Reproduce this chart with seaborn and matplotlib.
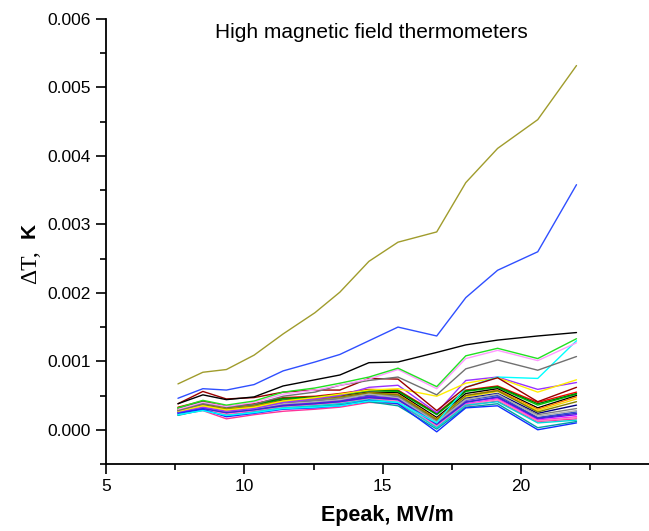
import numpy as np
import pandas as pd
import matplotlib
matplotlib.use("Agg")
import matplotlib.pyplot as plt
from matplotlib.ticker import MultipleLocator, FormatStrFormatter
import seaborn as sns

# Peak surface field of each measurement step, MV/m
epeak = [7.6, 8.5, 9.35, 10.35, 11.4, 12.55, 13.45, 14.5, 15.55, 16.95, 18.0, 19.15, 20.6, 22.0]

# Temperature rise of each thermometer, K
t_olive = [0.00067, 0.00084, 0.00088, 0.00109, 0.00140, 0.00171, 0.00201, 0.00246, 0.00274, 0.00289, 0.00361, 0.00411, 0.00453, 0.00532]
t_blue = [0.00046, 0.00060, 0.00058, 0.00066, 0.00086, 0.00099, 0.00110, 0.00130, 0.00150, 0.00137, 0.00193, 0.00233, 0.00260, 0.00358]
t_black = [0.00038, 0.00051, 0.00044, 0.00048, 0.00064, 0.00073, 0.00080, 0.00098, 0.00099, 0.00113, 0.00124, 0.00131, 0.00137, 0.00142]
t_green = [0.00032, 0.00043, 0.00036, 0.00042, 0.00055, 0.00061, 0.00068, 0.00077, 0.00090, 0.00063, 0.00108, 0.00119, 0.00104, 0.00133]
t_lmagenta = [0.00030, 0.00040, 0.00034, 0.00040, 0.00052, 0.00058, 0.00065, 0.00074, 0.00088, 0.00060, 0.00104, 0.00116, 0.00101, 0.00127]
t_gray = [0.00028, 0.00038, 0.00033, 0.00037, 0.00049, 0.00055, 0.00065, 0.00072, 0.00077, 0.00051, 0.00089, 0.00102, 0.00087, 0.00107]
t_wine = [0.00038, 0.00056, 0.00045, 0.00047, 0.00055, 0.00058, 0.00058, 0.00075, 0.00074, 0.00028, 0.00062, 0.00076, 0.00041, 0.00062]
t_cyan = [0.00022, 0.00028, 0.00021, 0.00025, 0.00031, 0.00033, 0.00035, 0.00042, 0.00040, 0.00010, 0.00062, 0.00077, 0.00075, 0.00130]
t_yellow = [0.00027, 0.00035, 0.00029, 0.00033, 0.00042, 0.00047, 0.00052, 0.00058, 0.00060, 0.00049, 0.00068, 0.00076, 0.00055, 0.00073]
t_violet = [0.00026, 0.00033, 0.00027, 0.00031, 0.00040, 0.00045, 0.00050, 0.00062, 0.00065, 0.00025, 0.00072, 0.00077, 0.00059, 0.00069]
t_red = [0.00033, 0.00042, 0.00034, 0.00038, 0.00047, 0.00049, 0.00053, 0.00059, 0.00058, 0.00024, 0.00058, 0.00064, 0.00040, 0.00055]
t_green2 = [0.00031, 0.00040, 0.00032, 0.00036, 0.00045, 0.00047, 0.00051, 0.00057, 0.00056, 0.00022, 0.00056, 0.00062, 0.00036, 0.00052]
t_black2 = [0.00029, 0.00038, 0.00030, 0.00034, 0.00043, 0.00045, 0.00049, 0.00055, 0.00054, 0.00018, 0.00053, 0.00060, 0.00032, 0.00050]
t_orange = [0.00030, 0.00037, 0.00031, 0.00035, 0.00042, 0.00046, 0.00048, 0.00054, 0.00052, 0.00016, 0.00050, 0.00058, 0.00030, 0.00048]
t_yellow2 = [0.00028, 0.00036, 0.00029, 0.00033, 0.00040, 0.00044, 0.00047, 0.00053, 0.00050, 0.00014, 0.00048, 0.00056, 0.00028, 0.00045]
t_navy = [0.00027, 0.00034, 0.00027, 0.00031, 0.00039, 0.00042, 0.00045, 0.00051, 0.00048, 0.00012, 0.00046, 0.00053, 0.00024, 0.00036]
t_gray2 = [0.00028, 0.00035, 0.00028, 0.00032, 0.00040, 0.00043, 0.00046, 0.00052, 0.00049, 0.00013, 0.00045, 0.00051, 0.00022, 0.00031]
t_royal = [0.00026, 0.00033, 0.00026, 0.00030, 0.00037, 0.00040, 0.00043, 0.00049, 0.00046, 0.00010, 0.00043, 0.00050, 0.00018, 0.00026]
t_magenta = [0.00023, 0.00031, 0.00022, 0.00027, 0.00034, 0.00037, 0.00040, 0.00046, 0.00043, 0.00006, 0.00038, 0.00045, 0.00014, 0.00019]
t_pink = [0.00022, 0.00028, 0.00016, 0.00022, 0.00027, 0.00030, 0.00033, 0.00040, 0.00038, 0.00004, 0.00035, 0.00042, 0.00012, 0.00016]
t_teal = [0.00021, 0.00029, 0.00021, 0.00025, 0.00031, 0.00034, 0.00037, 0.00041, 0.00035, 0.00001, 0.00033, 0.00038, 0.00003, 0.00012]
t_blue2 = [0.00024, 0.00030, 0.00019, 0.00024, 0.00030, 0.00032, 0.00035, 0.00043, 0.00038, -0.00003, 0.00032, 0.00035, 0.00000, 0.00010]
t_violet2 = [0.00025, 0.00032, 0.00024, 0.00029, 0.00036, 0.00039, 0.00042, 0.00048, 0.00045, 0.00009, 0.00041, 0.00047, 0.00016, 0.00022]
t_olive2 = [0.00029, 0.00037, 0.00030, 0.00034, 0.00042, 0.00045, 0.00048, 0.00054, 0.00051, 0.00015, 0.00050, 0.00057, 0.00026, 0.00041]
t_lgray = [0.00026, 0.00034, 0.00027, 0.00031, 0.00038, 0.00041, 0.00044, 0.00052, 0.00047, 0.00011, 0.00044, 0.00052, 0.00020, 0.00028]
t_dgreen = [0.00032, 0.00041, 0.00033, 0.00037, 0.00046, 0.00048, 0.00052, 0.00058, 0.00057, 0.00023, 0.00057, 0.00063, 0.00038, 0.00053]
t_lpink = [0.00024, 0.00030, 0.00023, 0.00028, 0.00033, 0.00036, 0.00039, 0.00045, 0.00042, 0.00005, 0.00037, 0.00044, 0.00013, 0.00018]
t_dblue = [0.00025, 0.00031, 0.00025, 0.00029, 0.00035, 0.00038, 0.00041, 0.00047, 0.00044, 0.00008, 0.00040, 0.00048, 0.00017, 0.00024]
t_cyan2 = [0.00022, 0.00029, 0.00020, 0.00026, 0.00032, 0.00035, 0.00038, 0.00044, 0.00040, 0.00003, 0.00036, 0.00041, 0.00010, 0.00014]

series = [
    ("T01", t_red, "#ff0000"),
    ("T02", t_green2, "#00d000"),
    ("T03", t_black2, "#000000"),
    ("T04", t_orange, "#ff8000"),
    ("T05", t_yellow2, "#f5d800"),
    ("T06", t_navy, "#000080"),
    ("T07", t_gray2, "#808080"),
    ("T08", t_royal, "#3050d0"),
    ("T09", t_magenta, "#ff00ff"),
    ("T10", t_pink, "#ff3399"),
    ("T11", t_teal, "#00a0a0"),
    ("T12", t_violet2, "#8000ff"),
    ("T13", t_olive2, "#808000"),
    ("T14", t_lgray, "#b0b0b0"),
    ("T15", t_dgreen, "#008000"),
    ("T16", t_lpink, "#ff80c0"),
    ("T17", t_dblue, "#3333cc"),
    ("T18", t_cyan2, "#00d8d8"),
    ("T19", t_blue2, "#1030ff"),
    ("T20", t_violet, "#9933ff"),
    ("T21", t_yellow, "#ffee00"),
    ("T22", t_cyan, "#00ffff"),
    ("T23", t_wine, "#990000"),
    ("T24", t_gray, "#707070"),
    ("T25", t_lmagenta, "#ff99ff"),
    ("T26", t_green, "#22e022"),
    ("T27", t_black, "#000000"),
    ("T28", t_blue, "#2f4fff"),
    ("T29", t_olive, "#a09c2c"),
]

frames = []
for name, vals, _ in series:
    frames.append(pd.DataFrame({"Epeak": epeak, "dT": vals, "sensor": name}))
df = pd.concat(frames, ignore_index=True)
palette = {name: color for name, _, color in series}

sns.set_style("ticks")
plt.rcParams["font.family"] = ["Liberation Sans", "DejaVu Sans"]
plt.rcParams["text.color"] = "black"

W, H = 649, 531
fig = plt.figure(figsize=(W / 100, H / 100), dpi=100)
ax = fig.add_axes([106 / W, 67 / H, 543 / W, 445 / H])

sns.lineplot(data=df, x="Epeak", y="dT", hue="sensor", palette=palette,
             hue_order=[s[0] for s in series], linewidth=1.0, legend=False,
             ax=ax, estimator=None, sort=False)

ax.set_xlim(5, 24.62)
ax.set_ylim(-0.0005, 0.006)
ax.xaxis.set_major_locator(MultipleLocator(5))
ax.xaxis.set_minor_locator(MultipleLocator(2.5))
ax.yaxis.set_major_locator(MultipleLocator(0.001))
ax.yaxis.set_minor_locator(MultipleLocator(0.0005))
ax.yaxis.set_major_formatter(FormatStrFormatter("%.3f"))

for side in ("top", "right"):
    ax.spines[side].set_visible(False)
for side in ("left", "bottom"):
    ax.spines[side].set_linewidth(1.3)
    ax.spines[side].set_color("black")

ax.tick_params(which="major", direction="out", length=7, width=1.2,
               labelsize=12.5, pad=4, color="black", labelcolor="black")
ax.tick_params(which="minor", direction="out", length=4.5, width=1.2, color="black")
ax.set_xlabel("")
ax.set_ylabel("")

# Axis titles
fig.text(387 / W, 1 - 516 / H, "Epeak, MV/m", fontsize=15.5, fontweight="bold",
         ha="center", va="center", color="black")
fig.text(36 / W, 1 - 284 / H, "ΔT,", family=["Liberation Serif", "DejaVu Serif"],
         fontsize=17, rotation=90, rotation_mode="anchor", ha="left", va="baseline",
         color="black")
fig.text(35 / W, 1 - 238 / H, "K", fontsize=15, fontweight="bold",
         rotation=90, rotation_mode="anchor", ha="left", va="baseline", color="black")

ax.text(371 / W, 1 - 32 / H, "High magnetic field thermometers",
        transform=fig.transFigure, ha="center", va="center", fontsize=15, color="black")

fig.savefig("out.png", dpi=100)
